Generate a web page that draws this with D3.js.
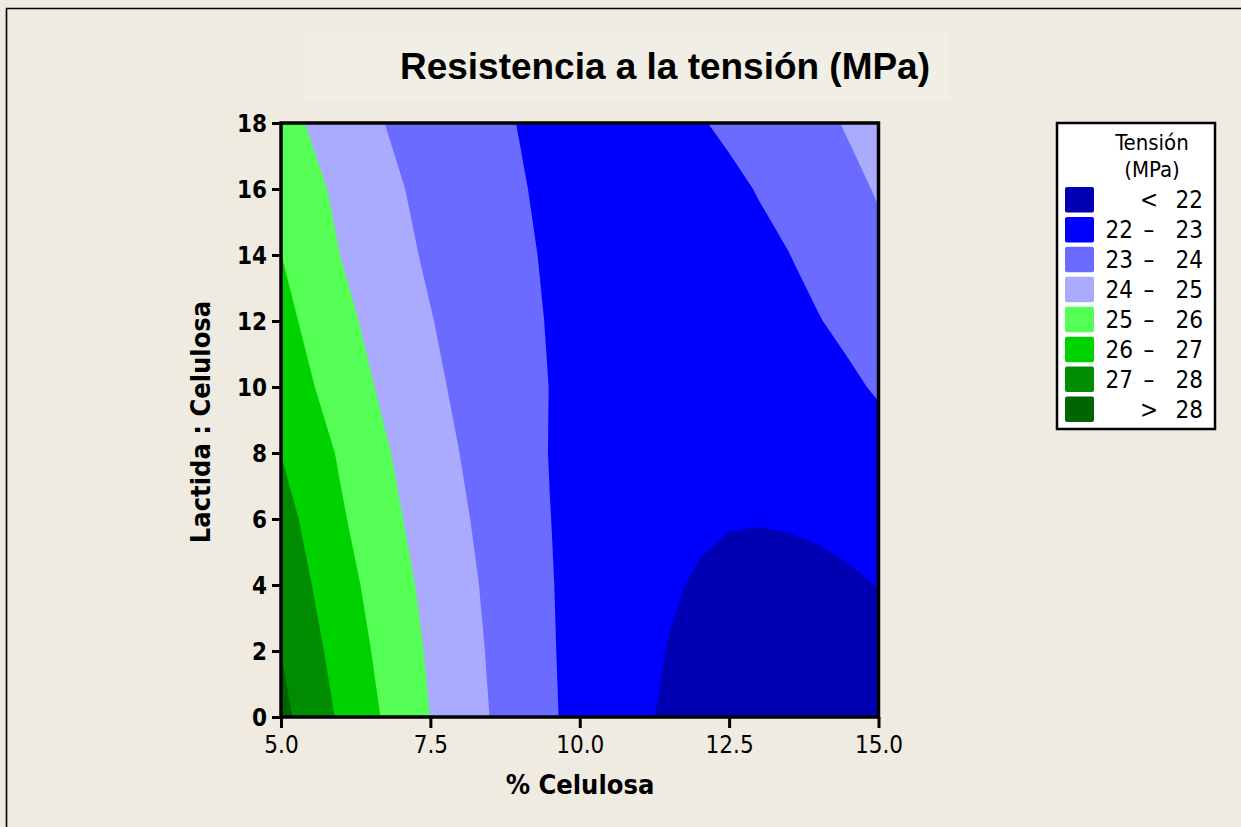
<!DOCTYPE html>
<html>
<head>
<meta charset="utf-8">
<script src="https://cdn.jsdelivr.net/npm/d3@7"></script>
<style>
  html, body { margin: 0; padding: 0; background: #EFEBE1; }
  svg { display: block; }
</style>
</head>
<body>
<svg id="chart" width="1241" height="827"></svg>
<script>
// Sample positions of the response grid
const celulosaPct = [5, 5.5, 6, 6.5, 7, 7.5, 8, 8.5, 9, 9.5, 10, 10.5, 11, 11.5, 12, 12.5, 13, 13.5, 14, 14.5, 15];
const lactidaCelulosa = [0, 2, 4, 6, 8, 10, 12, 14, 16, 18];

// Tensile strength (MPa), one row per Lactida:Celulosa level
const tensionL0  = [28.28, 27.55, 26.86, 26.20, 25.59, 24.99, 24.49, 23.99, 23.54, 23.10, 22.76, 22.43, 22.13, 21.88, 21.67, 21.50, 21.37, 21.27, 21.22, 21.21, 21.24];
const tensionL2  = [27.99, 27.29, 26.63, 26.01, 25.42, 24.88, 24.38, 23.92, 23.47, 23.06, 22.78, 22.49, 22.20, 21.97, 21.80, 21.66, 21.57, 21.52, 21.52, 21.56, 21.63];
const tensionL4  = [27.69, 27.02, 26.39, 25.80, 25.25, 24.74, 24.27, 23.84, 23.44, 23.04, 22.77, 22.52, 22.29, 22.08, 21.93, 21.83, 21.78, 21.77, 21.80, 21.88, 22.02];
const tensionL6  = [27.38, 26.74, 26.11, 25.58, 25.04, 24.59, 24.12, 23.76, 23.38, 23.01, 22.78, 22.57, 22.39, 22.24, 22.11, 22.04, 22.03, 22.06, 22.13, 22.25, 22.38];
const tensionL8  = [26.99, 26.45, 25.89, 25.33, 24.85, 24.40, 23.99, 23.62, 23.30, 22.98, 22.81, 22.62, 22.47, 22.35, 22.28, 22.24, 22.24, 22.29, 22.38, 22.50, 22.67];
const tensionL10 = [26.64, 26.07, 25.54, 25.06, 24.61, 24.20, 23.84, 23.52, 23.23, 22.99, 22.79, 22.63, 22.52, 22.44, 22.40, 22.41, 22.45, 22.54, 22.68, 22.86, 23.09];
const tensionL12 = [26.31, 25.77, 25.27, 24.82, 24.41, 24.04, 23.71, 23.42, 23.17, 22.96, 22.80, 22.67, 22.59, 22.55, 22.55, 22.59, 22.67, 22.79, 22.97, 23.19, 23.45];
const tensionL14 = [26.01, 25.46, 24.99, 24.58, 24.20, 23.87, 23.57, 23.31, 23.10, 22.93, 22.80, 22.71, 22.66, 22.65, 22.69, 22.76, 22.86, 22.99, 23.23, 23.48, 23.77];
const tensionL16 = [25.72, 25.24, 24.80, 24.40, 24.05, 23.73, 23.46, 23.23, 23.04, 22.89, 22.79, 22.72, 22.70, 22.72, 22.78, 22.88, 23.03, 23.21, 23.44, 23.76, 24.08];
const tensionL18 = [25.35, 24.91, 24.51, 24.15, 23.83, 23.56, 23.32, 23.13, 22.98, 22.87, 22.81, 22.78, 22.80, 22.86, 22.96, 23.10, 23.28, 23.51, 23.78, 24.09, 24.44];
const tensionRows = [tensionL0, tensionL2, tensionL4, tensionL6, tensionL8, tensionL10, tensionL12, tensionL14, tensionL16, tensionL18];

// Contour bands
const levelBreaks = [22, 23, 24, 25, 26, 27, 28];
const levelColors = ["#0000B2", "#0000FF", "#6B6BFF", "#AAAAFF", "#55FF55", "#00D200", "#008C00", "#006400"];

// Axis ticks
const xTicks = [5, 7.5, 10, 12.5, 15];
const yTicks = [0, 2, 4, 6, 8, 10, 12, 14, 16, 18];

const tickFont = "'DejaVu Sans Condensed', 'DejaVu Sans', sans-serif";

const svg = d3.select("#chart");
svg.append("rect").attr("width", 1241).attr("height", 827).attr("fill", "#EFEBE1");

// outer frame (left and top edges)
svg.append("path")
  .attr("d", "M6.5,827V8.5H1241")
  .attr("fill", "none").attr("stroke", "#000").attr("stroke-width", 1.6);

// title panel
svg.append("rect").attr("x", 303).attr("y", 31).attr("width", 647).attr("height", 69).attr("fill", "#F1EEE5");
svg.append("text")
  .attr("x", 665).attr("y", 79)
  .attr("text-anchor", "middle")
  .attr("font-family", "'Liberation Sans', Arial, sans-serif")
  .attr("font-weight", "bold")
  .attr("font-size", 36)
  .attr("textLength", 530).attr("lengthAdjust", "spacingAndGlyphs")
  .text("Resistencia a la tensión (MPa)");

// scales
const x = d3.scaleLinear().domain([5, 15]).range([281, 878.5]);
const y = d3.scaleLinear().domain([0, 18]).range([717, 123]);

// contour geometry from the value grid
const nx = celulosaPct.length, ny = lactidaCelulosa.length;
const stepX = celulosaPct[1] - celulosaPct[0];
const stepY = lactidaCelulosa[1] - lactidaCelulosa[0];
const grid = tensionRows.flat();
const gridToPlot = d3.geoTransform({
  point(gx, gy) {
    this.stream.point(
      x(celulosaPct[0] + (gx - 0.5) * stepX),
      y(lactidaCelulosa[0] + (gy - 0.5) * stepY)
    );
  }
});
const contourPath = d3.geoPath(gridToPlot);
const bands = d3.contours().size([nx, ny]).thresholds(levelBreaks)(grid);

svg.append("clipPath").attr("id", "plotClip")
  .append("rect")
  .attr("x", x(5)).attr("y", y(18))
  .attr("width", x(15) - x(5)).attr("height", y(0) - y(18));

const plot = svg.append("g").attr("clip-path", "url(#plotClip)");
plot.append("rect")
  .attr("x", x(5)).attr("y", y(18))
  .attr("width", x(15) - x(5)).attr("height", y(0) - y(18))
  .attr("fill", levelColors[0]);
plot.selectAll("path.band")
  .data(bands)
  .join("path")
  .attr("class", "band")
  .attr("d", contourPath)
  .attr("fill", (d, i) => levelColors[i + 1]);

// axes
const xAxis = svg.append("g")
  .attr("transform", `translate(0,${y(0)})`)
  .call(d3.axisBottom(x).tickValues(xTicks).tickFormat(d3.format(".1f")).tickSize(11).tickPadding(8));
const yAxis = svg.append("g")
  .attr("transform", `translate(${x(5)},0)`)
  .call(d3.axisLeft(y).tickValues(yTicks).tickFormat(d3.format("d")).tickSize(9).tickPadding(5));
[xAxis, yAxis].forEach(g => {
  g.select(".domain").remove();
  g.selectAll(".tick line").attr("stroke", "#000").attr("stroke-width", 3);
  g.selectAll(".tick text")
    .attr("fill", "#000")
    .attr("font-family", tickFont)
    .attr("font-size", 24);
});
yAxis.selectAll(".tick text").attr("font-weight", "bold").attr("dy", "0.36em");

// plot frame
svg.append("rect")
  .attr("x", x(5)).attr("y", y(18))
  .attr("width", x(15) - x(5)).attr("height", y(0) - y(18))
  .attr("fill", "none").attr("stroke", "#000").attr("stroke-width", 3.5);

// axis titles
svg.append("text")
  .attr("x", 580).attr("y", 794)
  .attr("text-anchor", "middle")
  .attr("font-family", tickFont).attr("font-weight", "bold").attr("font-size", 27)
  .text("% Celulosa");
svg.append("text")
  .attr("transform", "translate(210,422) rotate(-90)")
  .attr("text-anchor", "middle")
  .attr("font-family", tickFont).attr("font-weight", "bold").attr("font-size", 27)
  .text("Lactida : Celulosa");

// legend
const legend = svg.append("g");
legend.append("rect")
  .attr("x", 1057).attr("y", 123).attr("width", 158).attr("height", 306)
  .attr("fill", "#FFFFFF").attr("stroke", "#000").attr("stroke-width", 2.5);
legend.append("text").attr("x", 1152).attr("y", 150).attr("text-anchor", "middle")
  .attr("font-family", tickFont).attr("font-size", 22).text("Tensión");
legend.append("text").attr("x", 1152).attr("y", 177).attr("text-anchor", "middle")
  .attr("font-family", tickFont).attr("font-size", 22).text("(MPa)");

const legendRows = levelColors.map((c, i) => {
  if (i === 0) return { color: c, lo: "", sym: "<", hi: String(levelBreaks[0]) };
  if (i === levelColors.length - 1) return { color: c, lo: "", sym: ">", hi: String(levelBreaks[levelBreaks.length - 1]) };
  return { color: c, lo: String(levelBreaks[i - 1]), sym: "–", hi: String(levelBreaks[i]) };
});
const rowY = d3.scaleLinear().domain([0, 7]).range([187, 396.5]);
const row = legend.selectAll("g.row").data(legendRows).join("g")
  .attr("class", "row")
  .attr("transform", (d, i) => `translate(0,${rowY(i)})`);
row.append("rect").attr("x", 1065).attr("y", 0).attr("width", 29).attr("height", 25.5).attr("rx", 2)
  .attr("fill", d => d.color);
const rowText = (sel, xPos, anchor, key) => sel.append("text")
  .attr("x", xPos).attr("y", 21).attr("text-anchor", anchor)
  .attr("font-family", tickFont).attr("font-size", 24).attr("fill", "#000")
  .text(d => d[key]);
rowText(row, 1133, "end", "lo");
rowText(row, 1149, "middle", "sym");
rowText(row, 1203, "end", "hi");
</script>
</body>
</html>
